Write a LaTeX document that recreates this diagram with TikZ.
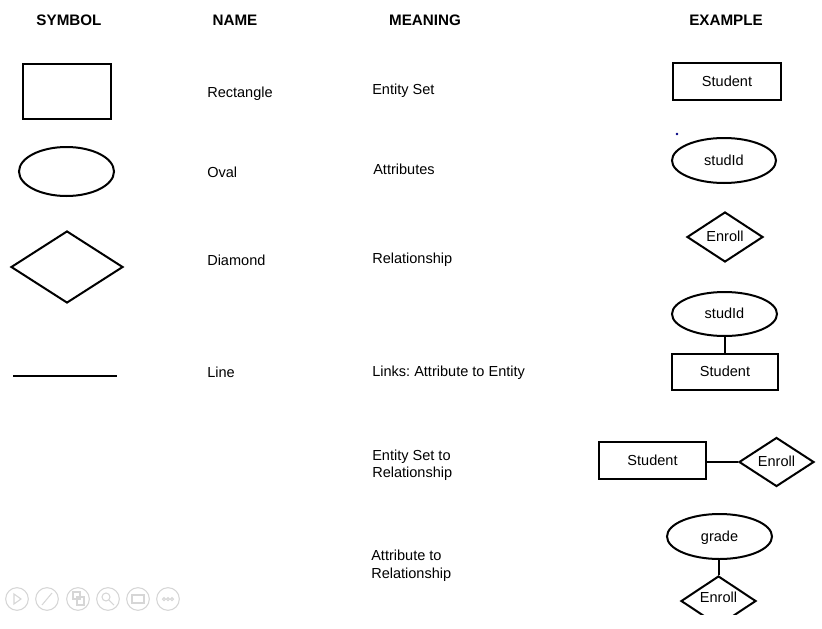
\documentclass[tikz,border=0pt]{standalone}
\usepackage{fontspec}
\setmainfont{Liberation Sans}
\usetikzlibrary{shapes.geometric}
\frenchspacing
\begin{document}
\begin{tikzpicture}[x=0.75pt,y=-0.75pt,
  hdr/.style={font=\bfseries\fontsize{11.4}{13}\selectfont, anchor=base, inner sep=0pt},
  lbl/.style={font=\fontsize{10.9}{13}\selectfont, anchor=base west, inner sep=0pt},
  shp/.style={draw=black, line width=1.5pt, inner sep=0pt, font=\fontsize{10.9}{13}\selectfont, text height=0.716em, text depth=0pt},
  ent/.style={shp, rectangle},
  att/.style={shp, ellipse},
  rel/.style={shp, diamond, shape aspect=2},
  lnk/.style={line width=1.5pt},
  ico/.style={draw=black!16, line width=0.8pt}
]
\useasboundingbox (0,0) rectangle (822,629);

% headers
\node[hdr] (h1) at (69,25) {SYMBOL};
\node[hdr] (h2) at (235,25) {NAME};
\node[hdr] (h3) at (425,25) {MEANING};
\node[hdr] (h4) at (726,25) {EXAMPLE};

% symbol column
\node[ent, minimum width=66pt, minimum height=41.25pt] (sr) at (67,91.5) {};
\node[att, minimum width=71.25pt, minimum height=36.75pt] (so) at (66.5,171.5) {};
\node[shp, diamond, minimum width=84pt, minimum height=54pt] (sd) at (67,267) {};
\coordinate (la) at (13,376);
\coordinate (lb) at (117,376);
\draw[line width=1.9pt] (la) -- (lb);

% name column
\node[lbl] (n1) at (207,97) {Rectangle};
\node[lbl] (n2) at (207,177) {Oval};
\node[lbl] (n3) at (207,265) {Diamond};
\node[lbl] (n4) at (207,377) {Line};

% meaning column
\node[lbl] (m1) at (372,94) {Entity Set};
\node[lbl] (m2) at (373,174) {Attributes};
\node[lbl] (m3) at (372,263) {Relationship};
\node[lbl] (m4) at (372,376) {Links: Attribute to Entity};
\node[lbl] (m5) at (372,460) {Entity Set to};
\node[lbl] (m5b) at (372,477) {Relationship};
\node[lbl] (m6) at (371,560) {Attribute to};
\node[lbl] (m6b) at (371,578) {Relationship};

% examples
\node[ent, minimum width=81pt, minimum height=27.75pt] (e1) at (727,81.5) {Student};
\fill[blue!50!black] (677,134) circle (1pt);
\node[att, minimum width=78pt, minimum height=33.75pt] (e2) at (724,160.5) {studId};
\node[rel, minimum width=57pt, minimum height=37.5pt] (e3) at (725,237) {Enroll};

\node[att, minimum width=78.75pt, minimum height=33pt] (e4a) at (724.5,314) {studId};
\node[ent, minimum width=79.5pt, minimum height=27pt] (e4b) at (725,372) {Student};
\draw[lnk] (e4b.north) -- (e4b.north |- e4a.south);

\node[ent, minimum width=80.25pt, minimum height=27.75pt] (e5a) at (652.5,460.5) {Student};
\node[rel, minimum width=56.25pt, minimum height=36.75pt] (e5b) at (776.5,462) {Enroll};
\draw[lnk] (e5b.west) -- (e5b.west -| e5a.east);

\node[att, minimum width=78.75pt, minimum height=33.75pt] (e6a) at (719.5,536.5) {grade};
\begin{scope}
\clip (0,0) rectangle (822,614);
\node[rel, minimum width=56.25pt, minimum height=37.5pt] (e6b) at (718.5,601) {};
\end{scope}
\node[font=\fontsize{10.9}{13}\selectfont, inner sep=0pt, text height=0.716em, text depth=0pt] (e6t) at (718.5,598) {Enroll};
\draw[lnk] (e6b.north) -- (e6b.north |- e6a.south);

% presentation toolbar icons (faint)
\foreach \i/\cx in {1/17,2/47,3/78,4/108,5/138,6/168}{
  \node[ico, circle, minimum size=17pt, inner sep=0pt] (ic\i) at (\cx,599) {};
}
\draw[ico] (14,594) -- (21,599) -- (14,604) -- cycle;
\draw[ico] (42,605) -- (52,593);
\draw[ico] (73,592) rectangle (80,599);
\draw[ico] (77,597) rectangle (84,605);
\draw[ico] (106,597) circle (4);
\draw[ico] (109,600) -- (114,605);
\draw[ico] (132,595) rectangle (144,603);
\foreach \dx in {-4,0,4}{\draw[ico] (168+\dx,599) circle (1.5);}
\end{tikzpicture}
\end{document}
